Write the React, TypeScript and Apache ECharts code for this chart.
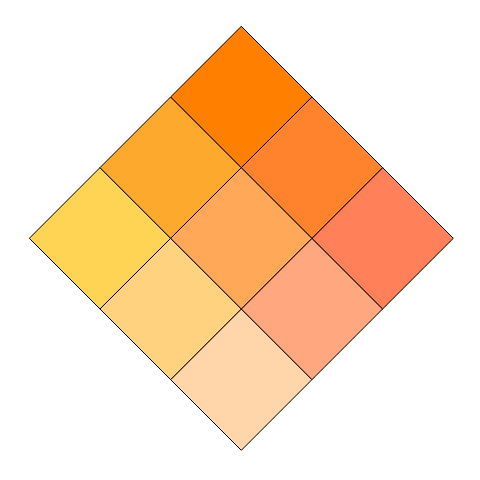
import React, { useEffect, useRef } from 'react';
import * as echarts from 'echarts';

// bivariate classes: i = first variable (towards left), j = second variable (towards right)
const classesA = [0, 1, 2];
const classesB = [0, 1, 2];

// colours indexed [i][j]
const cellColors = [
  ['#ffd5aa', '#ffa880', '#ff8059'],
  ['#ffd280', '#ffa858', '#ff822d'],
  ['#ffd454', '#fca92e', '#ff8000'],
];

const cells: [number, number][] = [];
classesA.forEach((i) => classesB.forEach((j) => cells.push([i, j])));

const App: React.FC = () => {
  const chartRef = useRef<HTMLDivElement>(null);

  useEffect(() => {
    if (!chartRef.current) return;
    const chart = echarts.init(chartRef.current, undefined, { renderer: 'svg' });

    const toDiamond = (i: number, j: number) => [j - i, i + j];

    const option: echarts.EChartsOption = {
      animation: false,
      grid: { left: 29.3, top: 26.3, width: 424, height: 424 },
      xAxis: { type: 'value', min: -3, max: 3, show: false },
      yAxis: { type: 'value', min: 0, max: 6, show: false },
      series: [
        {
          type: 'custom',
          data: cells,
          renderItem: (params: any, api: any) => {
            const i = api.value(0);
            const j = api.value(1);
            const corners = [
              toDiamond(i, j),
              toDiamond(i + 1, j),
              toDiamond(i + 1, j + 1),
              toDiamond(i, j + 1),
            ].map((p) => api.coord(p));
            return {
              type: 'polygon',
              shape: { points: corners },
              style: {
                fill: cellColors[i][j],
                stroke: '#000',
                lineWidth: 1,
              },
            };
          },
        },
      ],
    };

    chart.setOption(option);
    return () => chart.dispose();
  }, []);

  return (
    <div
      ref={chartRef}
      style={{ position: 'fixed', left: 0, top: 0, width: 480, height: 480, background: '#fff' }}
    />
  );
};

export default App;
